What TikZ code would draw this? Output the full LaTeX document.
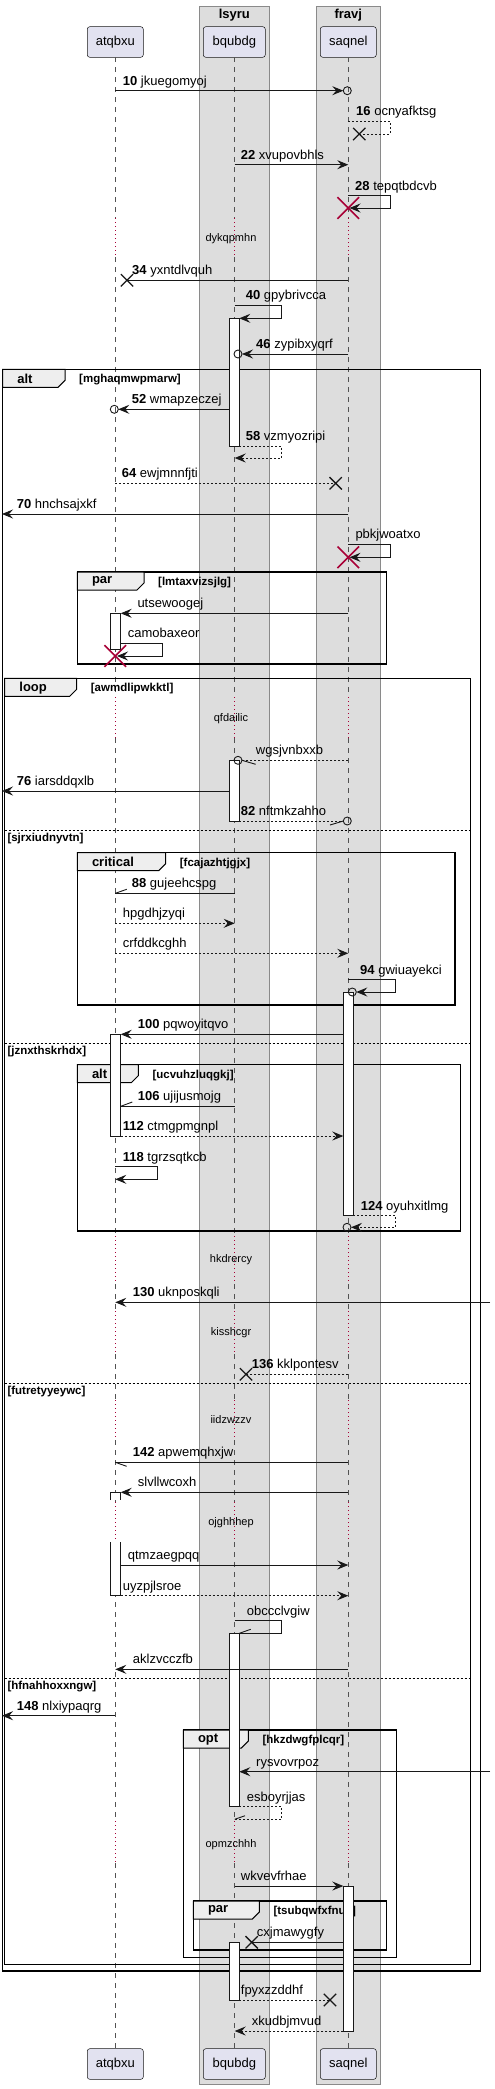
\documentclass[tikz,border=0pt]{standalone}
\usepackage{fontspec}
\setmainfont{Liberation Sans}
\usetikzlibrary{arrows.meta,shapes.misc}
\definecolor{ink}{HTML}{181818}
\definecolor{partfill}{HTML}{E2E2F0}
\definecolor{boxfill}{HTML}{DDDDDD}
\definecolor{boxline}{HTML}{8A8A8A}
\definecolor{crim}{HTML}{A80036}
\definecolor{tabfill}{HTML}{EEEEEE}
\tikzset{
 part/.style={draw=ink, fill=partfill, line width=0.5pt, rounded corners=2.5pt, minimum height=30.6pt, inner sep=0pt, font=\fontsize{13}{15}\selectfont},
 grp/.style={draw=boxline, fill=boxfill, line width=0.8pt},
 grptitle/.style={font=\bfseries\fontsize{13}{15}\selectfont, inner sep=0pt},
 life/.style={draw=ink!75, line width=0.6pt, dash pattern=on 5pt off 5pt},
 delayline/.style={draw=crim, line width=0.8pt, dash pattern=on 1pt off 3pt},
 delaytext/.style={font=\fontsize{11}{13}\selectfont, inner sep=0pt},
 act/.style={draw=ink, fill=white, line width=0.9pt},
 msg/.style={draw=ink, line width=0.9pt},
 dmsg/.style={msg, dash pattern=on 2pt off 2pt},
 tip/.style={-{Stealth[length=11pt,width=9pt,inset=4pt]}},
 mlab/.style={font=\fontsize{13}{15}\selectfont, inner sep=0pt, anchor=base west},
 frm/.style={draw=black, line width=1.4pt},
 tabshape/.style={draw=black, fill=tabfill, line width=1pt},
 tablab/.style={font=\bfseries\fontsize{13}{15}\selectfont, inner sep=0pt, anchor=west},
 guard/.style={font=\bfseries\fontsize{11.5}{13}\selectfont, inner sep=0pt, anchor=west},
 sep/.style={draw=black, line width=0.8pt, dash pattern=on 2pt off 2pt},
 lost/.style={draw=ink, cross out, line width=1.3pt, minimum size=11pt, inner sep=0pt},
 kill/.style={draw=crim, cross out, line width=1.6pt, minimum size=20pt, inner sep=0pt},
 endo/.style={draw=ink, circle, line width=0.9pt, minimum size=8pt, inner sep=0pt},
}
\newcommand\msgh[5]{\coordinate (#1a) at (#3,#2); \coordinate (#1b) at (#4,#2); \draw[#5] (#1a) -- (#1b);}
\newcommand\selfmsg[7]{\coordinate (#1a) at (#4,#2); \coordinate (#1c) at (#6,#3); \draw[#7] (#1a) -- (#5,#2) -- (#5,#3) -- (#1c);}
\newcommand\ml[4]{\node[mlab] (#1) at (#2,#3-5.5) {#4};}
\newcommand\halfarr[3]{\coordinate (#1) at (#2,#3);}
\newcommand\frameblk[8]{%
 \draw[frm] (#2,#3) rectangle (#4,#5);
 \draw[tabshape] (#2,#3) -- (#6,#3) -- (#6,#3+11) -- (#6-7,#3+18) -- (#2,#3+18) -- cycle;
 \node[tablab] (#1k) at (#2+14.5,#3+9.5) {#7};
 \node[guard] (#1g) at (#6+14,#3+10.5) {#8};}
\newcommand\actbar[3]{\draw[act] (#1,#2) rectangle (#1+10,#3);}
\begin{document}
\begin{tikzpicture}[x=1pt,y=-1pt]
\useasboundingbox (0,0) rectangle (495,2089);
% group boxes
\draw[grp] (199.3,6) rectangle (269.3,2084);
\draw[grp] (316.3,6) rectangle (380.3,2084);
\node[grptitle] (g1) at (234.3,15) {lsyru};
\node[grptitle] (g2) at (348.3,15) {fravj};
% participants
\node[part, minimum width=56pt] (pA) at (115.3,42) {atqbxu};
\node[part, minimum width=62pt] (pB) at (234.3,42) {bqubdg};
\node[part, minimum width=56pt] (pS) at (348.3,42) {saqnel};
\node[part, minimum width=56pt] (qA) at (115.3,2064) {atqbxu};
\node[part, minimum width=62pt] (qB) at (234.3,2064) {bqubdg};
\node[part, minimum width=56pt] (qS) at (348.3,2064) {saqnel};
% lifelines
\foreach \lx in {115.3,234.7,348.3}{
 \foreach \a/\b in {57.3/218,257/697,738/1236,1284/1311,1354/1400,1440/1502,1542/1821,1863/2048.7} \draw[life] (\lx,\a) -- (\lx,\b);
 \foreach \a/\b in {218/257,697/738,1236/1284,1311/1354,1400/1440,1502/1542,1821/1863} \draw[delayline] (\lx,\a) -- (\lx,\b);
}
% delay texts
\node[delaytext] (d1) at (231,238.3) {dykqpmhn};
\node[delaytext] (d2) at (231,718.3) {qfdailic};
\node[delaytext] (d3) at (231,1260) {hkdrercy};
\node[delaytext] (d4) at (231,1332.3) {kisshcgr};
\node[delaytext] (d5) at (231,1420) {iidzwzzv};
\node[delaytext] (d6) at (231,1522.3) {ojghhhep};
\node[delaytext] (d7) at (231,1844.3) {opmzchhh};
% frames
\frameblk{fa}{2.7}{369.3}{480.7}{1971}{65}{alt}{[mghaqmwpmarw]}
\frameblk{fp}{77.3}{572}{386.3}{664}{144}{par}{[lmtaxvizsjlg]}
\frameblk{fl}{4.7}{678.3}{470.7}{1964.3}{76.7}{loop}{[awmdlipwkktl]}
\frameblk{fc}{77.3}{852.7}{455}{1005}{165.7}{critical}{[fcajazhtjgjx]}
\frameblk{fb}{77.3}{1064.7}{460.7}{1231}{138.3}{alt}{[ucvuhzluqgkj]}
\frameblk{fo}{183.3}{1730}{396.7}{1957.3}{248.3}{opt}{[hkzdwgfplcqr]}
\frameblk{fq}{193.3}{1901}{386.7}{1950}{259.3}{par}{[tsubqwfxfnue]}
% loop separators
\draw[sep] (4.7,830.3) -- (470.7,830.3);
\draw[sep] (4.7,1043.3) -- (470.7,1043.3);
\draw[sep] (4.7,1383.3) -- (470.7,1383.3);
\draw[sep] (4.7,1678.3) -- (470.7,1678.3);
\node[guard] (s1) at (7.3,838.5) {[sjrxiudnyvtn]};
\node[guard] (s2) at (7.3,1051.7) {[jznxthskrhdx]};
\node[guard] (s3) at (7.3,1391.7) {[futretyyeywc]};
\node[guard] (s4) at (7.3,1686.7) {[hfnahhoxxngw]};
% activations
\actbar{229.3}{318.3}{446}
\actbar{110.7}{613.3}{649.3}
\actbar{229.3}{760.3}{821}
\actbar{343.3}{992}{1215.7}
\actbar{110.7}{1034.3}{1136}
\fill[white] (110.7,1492.3) rectangle (120.7,1500);
\draw[act] (110.7,1500) -- (110.7,1492.3) -- (120.7,1492.3) -- (120.7,1500);
\fill[white] (110.7,1542) rectangle (120.7,1595);
\draw[act] (110.7,1542) -- (110.7,1595) -- (120.7,1595) -- (120.7,1542);
\actbar{229.3}{1633.3}{1806.7}
\actbar{343.3}{1886}{2031}
\actbar{229.3}{1942.3}{2000}
% messages
\msgh{m10}{90.7}{115.3}{343.3}{msg,tip}
\node[endo] (m10o) at (347.3,90.7) {};
\ml{l10}{122.7}{90.7}{\textbf{10} jkuegomyoj}
\selfmsg{m16}{121.3}{134}{348.3}{390.3}{359.3}{dmsg}
\node[lost] (m16x) at (359.3,134) {};
\ml{l16}{356}{121.3}{\textbf{16} ocnyafktsg}
\msgh{m22}{164.7}{234.7}{348.3}{msg,tip}
\ml{l22}{240.7}{164.7}{\textbf{22} xvupovbhls}
\node[kill] (m28x) at (348.3,208) {};
\selfmsg{m28}{195.7}{208}{348.3}{390.3}{349.5}{msg,tip}
\ml{l28}{355}{195.7}{\textbf{28} tepqtbdcvb}
\msgh{m34}{280.3}{348.3}{127}{msg}
\node[lost] (m34x) at (127,280.3) {};
\ml{l34}{132}{280.3}{\textbf{34} yxntdlvquh}
\selfmsg{m40}{305.3}{318.3}{234.7}{281.7}{239.3}{msg,tip}
\ml{l40}{245.7}{305.3}{\textbf{40} gpybrivcca}
\msgh{m46}{354}{348.3}{242}{msg,tip}
\node[endo] (m46o) at (238,354) {};
\ml{l46}{256}{354}{\textbf{46} zypibxyqrf}
\msgh{m52}{409.3}{229.3}{118.3}{msg,tip}
\node[endo] (m52o) at (114.3,409.3) {};
\ml{l52}{131.7}{409.3}{\textbf{52} wmapzeczej}
\selfmsg{m58}{446}{458}{239.3}{281.7}{234.7}{dmsg,tip}
\ml{l58}{245.7}{446}{\textbf{58} vzmyozripi}
\msgh{m64}{483.3}{115.3}{335.7}{dmsg}
\node[lost] (m64x) at (335.7,483.3) {};
\ml{l64}{121.7}{483.3}{\textbf{64} ewjmnnfjti}
\msgh{m70}{514}{348.3}{2}{msg,tip}
\ml{l70}{16.7}{514}{\textbf{70} hnchsajxkf}
\node[kill] (m71x) at (348.3,557.3) {};
\selfmsg{m71}{544.3}{557.3}{348.3}{390.3}{349.5}{msg,tip}
\ml{l71}{355.3}{544.3}{pbkjwoatxo}
\msgh{m72}{613.3}{348.3}{120.7}{msg,tip}
\ml{l72}{137.3}{613.3}{utsewoogej}
\node[kill] (m73x) at (115.3,656) {};
\selfmsg{m73}{643.3}{656}{120.7}{162.3}{117}{msg,tip}
\ml{l73}{127.7}{643.3}{camobaxeor}
\msgh{m74}{760.3}{348.3}{242}{dmsg}
\node[endo] (m74o) at (238,760.3) {};
\halfarr{m74h}{255.7}{764.3}
\draw[msg] (m74b) -- (m74h);
\ml{l74}{255.7}{760.3}{wgsjvnbxxb}
\msgh{m76}{791}{229.3}{2}{msg,tip}
\ml{l76}{16.7}{791}{\textbf{76} iarsddqxlb}
\msgh{m82}{821}{239.3}{343.3}{dmsg}
\node[endo] (m82o) at (347.3,821) {};
\halfarr{m82h}{330}{825}
\draw[msg] (m82b) -- (m82h);
\ml{l82}{240.7}{821}{\textbf{82} nftmkzahho}
\msgh{m88}{893.3}{234.7}{115.3}{msg}
\halfarr{m88h}{126.7}{889.3}
\draw[msg] (m88b) -- (m88h);
\ml{l88}{131.7}{893.3}{\textbf{88} gujeehcspg}
\msgh{m89}{923.3}{115.3}{234.7}{dmsg,tip}
\ml{l89}{122.7}{923.3}{hpgdhjzyqi}
\msgh{m90}{953.3}{115.3}{348.3}{dmsg,tip}
\ml{l90}{122.7}{953.3}{crfddkcghh}
\selfmsg{m94}{979.7}{992}{348.3}{395.7}{356.3}{msg,tip}
\node[endo] (m94o) at (352.3,992) {};
\ml{l94}{360}{979.7}{\textbf{94} gwiuayekci}
\msgh{m100}{1034.3}{343.3}{120.7}{msg,tip}
\ml{l100}{137.7}{1034.3}{\textbf{100} pqwoyitqvo}
\msgh{m106}{1106.3}{234.7}{120.7}{msg}
\halfarr{m106h}{132.3}{1102}
\draw[msg] (m106b) -- (m106h);
\ml{l106}{137.7}{1106.3}{\textbf{106} ujijusmojg}
\msgh{m112}{1136}{120.7}{343.3}{dmsg,tip}
\ml{l112}{122.7}{1136}{\textbf{112} ctmgpmgnpl}
\selfmsg{m118}{1166.7}{1179.3}{115.3}{157.3}{115.3}{msg,tip}
\ml{l118}{122.7}{1166.7}{\textbf{118} tgrzsqtkcb}
\selfmsg{m124}{1215.7}{1227.3}{353.3}{395.7}{351}{dmsg,tip}
\node[endo] (m124o) at (347,1227.3) {};
\ml{l124}{360.7}{1215.7}{\textbf{124} oyuhxitlmg}
\msgh{m130}{1302.3}{490}{115.3}{msg,tip}
\ml{l130}{132.7}{1302.3}{\textbf{130} uknposkqli}
\msgh{m136}{1374.3}{348.3}{246}{dmsg}
\node[lost] (m136x) at (246,1374.3) {};
\ml{l136}{251.7}{1374.3}{\textbf{136} kklpontesv}
\msgh{m142}{1462.3}{348.3}{115.3}{msg}
\halfarr{m142h}{126.7}{1466.3}
\draw[msg] (m142b) -- (m142h);
\ml{l142}{132.7}{1462.3}{\textbf{142} apwemqhxjw}
\msgh{m143}{1492.3}{348.3}{120.7}{msg,tip}
\ml{l143}{137.7}{1492.3}{slvllwcoxh}
\msgh{m144}{1565}{120.7}{348.3}{msg,tip}
\ml{l144}{127.7}{1565}{qtmzaegpqq}
\msgh{m145}{1595.7}{120.7}{348.3}{dmsg,tip}
\ml{l145}{122.7}{1595.7}{uyzpjlsroe}
\selfmsg{m146}{1620.7}{1633.3}{234.7}{281.7}{239.3}{msg}
\halfarr{m146h}{250.7}{1629.3}
\draw[msg] (m146c) -- (m146h);
\ml{l146}{246.7}{1620.7}{obccclvgiw}
\msgh{m147}{1669.3}{348.3}{115.3}{msg,tip}
\ml{l147}{132.7}{1669.3}{aklzvcczfb}
\msgh{m148}{1715.7}{115.3}{2}{msg,tip}
\ml{l148}{16.7}{1715.7}{\textbf{148} nlxiypaqrg}
\msgh{m149}{1771.7}{490}{239.3}{msg,tip}
\ml{l149}{256}{1771.7}{rysvovrpoz}
\selfmsg{m150}{1806.7}{1819.3}{239.3}{281.7}{234.7}{dmsg}
\halfarr{m150h}{245}{1815.7}
\draw[msg] (m150c) -- (m150h);
\ml{l150}{246.7}{1806.7}{esboyrjjas}
\msgh{m151}{1886}{234.7}{343.3}{msg,tip}
\ml{l151}{240.7}{1886}{wkvevfrhae}
\msgh{m152}{1942.3}{343.3}{251.7}{msg}
\node[lost] (m152x) at (251.7,1942.3) {};
\ml{l152}{256.7}{1942.3}{cxjmawygfy}
\msgh{m153}{2000}{239.3}{330}{dmsg}
\node[lost] (m153x) at (330,2000) {};
\ml{l153}{240.7}{2000}{fpyxzzddhf}
\msgh{m154}{2031}{343.3}{234.7}{dmsg,tip}
\ml{l154}{251.7}{2031}{xkudbjmvud}
\end{tikzpicture}
\end{document}
